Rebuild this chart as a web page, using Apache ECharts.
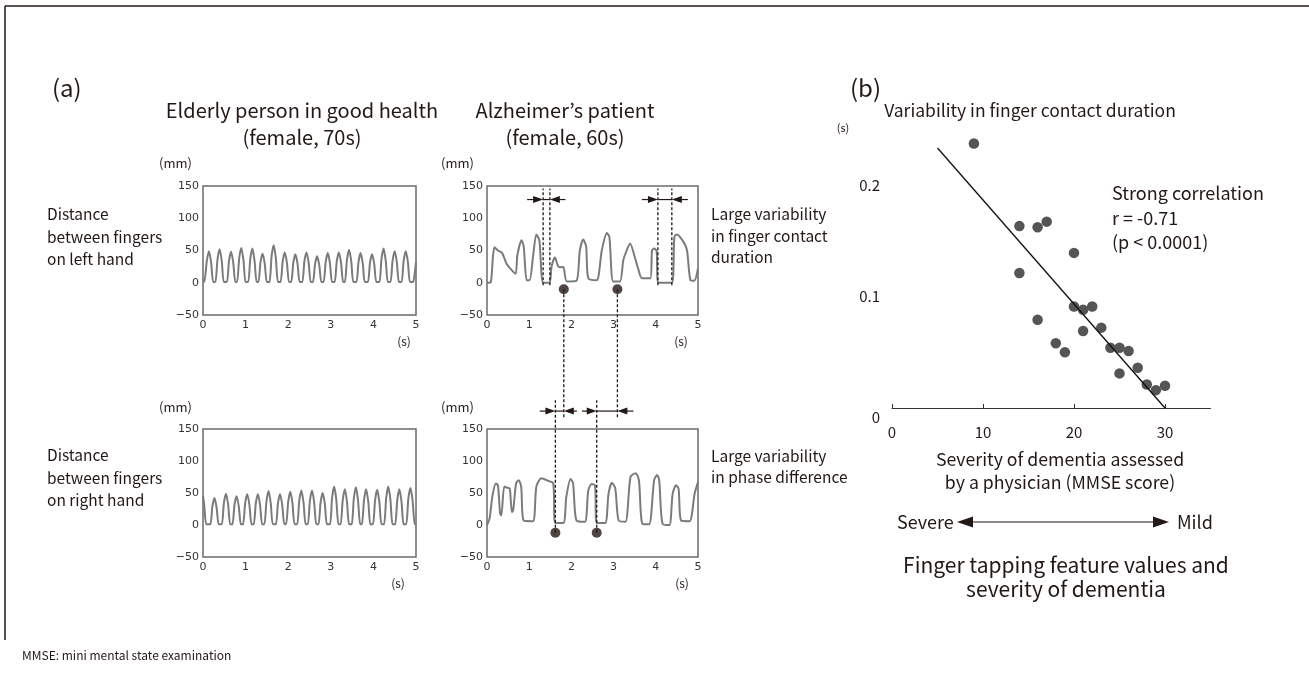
<!DOCTYPE html>
<html>
<head>
<meta charset="utf-8">
<script src="https://cdn.jsdelivr.net/npm/echarts@6/dist/echarts.min.js"></script>
<style>
  html, body { margin: 0; padding: 0; background: #fff; }
  #main { width: 1309px; height: 673px; }
</style>
</head>
<body>
<div id="main"></div>
<script>
var FONT = '"Noto Sans CJK JP", "Noto Sans", sans-serif';
var TICKFONT = '"DejaVu Sans", Verdana, sans-serif';
var INK = '#231815';
var TRACE = '#7b7b7b';

// distance between fingers (mm) over time (s)
var healthyLeft = [
  [0, 6], [0.03, 1], [0.09, 34], [0.14, 49], [0.19, 32], [0.24, 1],
  [0.29, 1], [0.34, 36], [0.39, 52], [0.44, 34], [0.49, 1],
  [0.56, 1], [0.61, 34], [0.66, 48], [0.71, 31], [0.76, 1],
  [0.80, 1], [0.85, 38], [0.90, 54], [0.95, 35], [1.00, 1],
  [1.06, 1], [1.11, 37], [1.16, 53], [1.21, 34], [1.26, 1],
  [1.30, 1], [1.35, 32], [1.40, 45], [1.45, 29], [1.50, 1],
  [1.56, 1], [1.61, 41], [1.66, 58], [1.71, 38], [1.76, 1],
  [1.82, 1], [1.87, 33], [1.92, 47], [1.97, 31], [2.02, 1],
  [2.07, 1], [2.12, 31], [2.17, 44], [2.22, 29], [2.27, 1],
  [2.33, 1], [2.38, 33], [2.43, 47], [2.48, 31], [2.53, 1],
  [2.58, 1], [2.63, 29], [2.68, 41], [2.73, 27], [2.78, 1],
  [2.83, 1], [2.88, 32], [2.93, 46], [2.98, 30], [3.03, 1],
  [3.09, 1], [3.14, 33], [3.19, 47], [3.24, 31], [3.29, 1],
  [3.33, 1], [3.38, 36], [3.43, 51], [3.48, 33], [3.53, 1],
  [3.60, 1], [3.65, 32], [3.70, 46], [3.75, 30], [3.80, 1],
  [3.87, 1], [3.92, 31], [3.97, 44], [4.02, 29], [4.07, 1],
  [4.14, 1], [4.19, 37], [4.24, 53], [4.29, 34], [4.34, 1],
  [4.40, 1], [4.45, 34], [4.50, 49], [4.55, 32], [4.60, 1],
  [4.66, 1], [4.71, 34], [4.76, 49], [4.81, 32], [4.86, 1],
  [4.93, 1], [4.97, 15], [5.0, 32]
];
var patientLeft = [
  [0, 0], [0.09, 1], [0.14, 40], [0.18, 55], [0.26, 50], [0.36, 46], [0.46, 30],
  [0.58, 20], [0.68, 14], [0.72, 43], [0.82, 66], [0.87, 56], [0.94, 4], [1.01, 4],
  [1.09, 40], [1.17, 75], [1.24, 66], [1.33, 0], [1.48, 0], [1.53, 25], [1.61, 39],
  [1.69, 25], [1.77, 24], [1.81, 25], [1.89, 2], [2.12, 3], [2.20, 50], [2.28, 67],
  [2.35, 56], [2.40, 7], [2.60, 4], [2.72, 50], [2.84, 77], [2.90, 71], [2.99, 2],
  [3.15, 2], [3.23, 35], [3.31, 50], [3.39, 61], [3.51, 38], [3.59, 20], [3.67, 7],
  [3.87, 7], [3.91, 50], [3.96, 53], [4.02, 49], [4.05, 0], [4.38, 0], [4.44, 71],
  [4.50, 75], [4.66, 63], [4.74, 50], [4.82, 4], [4.91, 3], [5.0, 22]
];
var healthyRight = [
  [0, 46], [0.03, 30], [0.08, 1],
  [0.17, 1], [0.22, 29], [0.27, 42], [0.32, 27], [0.37, 1],
  [0.44, 1], [0.49, 34], [0.54, 49], [0.59, 32], [0.64, 1],
  [0.69, 1], [0.74, 32], [0.79, 45], [0.84, 29], [0.89, 1],
  [0.94, 1], [0.99, 34], [1.04, 48], [1.09, 31], [1.14, 1],
  [1.19, 1], [1.24, 34], [1.29, 48], [1.34, 31], [1.39, 1],
  [1.44, 1], [1.49, 37], [1.54, 53], [1.59, 34], [1.64, 1],
  [1.71, 1], [1.76, 34], [1.81, 48], [1.86, 31], [1.91, 1],
  [1.95, 1], [2.00, 36], [2.05, 52], [2.10, 34], [2.15, 1],
  [2.21, 1], [2.26, 38], [2.31, 54], [2.36, 35], [2.41, 1],
  [2.46, 1], [2.51, 38], [2.56, 54], [2.61, 35], [2.66, 1],
  [2.71, 1], [2.76, 35], [2.81, 50], [2.86, 33], [2.91, 1],
  [2.98, 1], [3.03, 42], [3.08, 60], [3.13, 39], [3.18, 1],
  [3.23, 1], [3.28, 39], [3.33, 56], [3.38, 36], [3.43, 1],
  [3.49, 1], [3.54, 41], [3.59, 59], [3.64, 38], [3.69, 1],
  [3.73, 1], [3.78, 39], [3.83, 56], [3.88, 36], [3.93, 1],
  [3.99, 1], [4.04, 39], [4.09, 55], [4.14, 36], [4.19, 1],
  [4.25, 1], [4.30, 42], [4.35, 60], [4.40, 39], [4.45, 1],
  [4.51, 1], [4.56, 39], [4.61, 56], [4.66, 36], [4.71, 1],
  [4.77, 1], [4.82, 41], [4.87, 58], [4.92, 38], [4.97, 1],
  [5.0, 1]
];
var patientRight = [
  [0, 0], [0.06, 10], [0.13, 46], [0.21, 65], [0.26, 62], [0.31, 18], [0.34, 15],
  [0.41, 60], [0.49, 58], [0.54, 57], [0.59, 20], [0.62, 23], [0.69, 65], [0.75, 70],
  [0.81, 60], [0.87, 7], [1.09, 6], [1.17, 60], [1.29, 73], [1.45, 69], [1.57, 65],
  [1.62, 3], [1.81, 3], [1.88, 44], [1.98, 72], [2.04, 65], [2.12, 7], [2.32, 5],
  [2.40, 54], [2.48, 64], [2.56, 62], [2.60, 3], [2.80, 3], [2.88, 49], [2.96, 66],
  [3.04, 57], [3.12, 7], [3.28, 5], [3.40, 75], [3.52, 81], [3.60, 70], [3.68, 2],
  [3.84, 1], [3.96, 70], [4.03, 78], [4.08, 70], [4.16, 2], [4.32, 0], [4.40, 49],
  [4.48, 62], [4.54, 57], [4.60, 7], [4.80, 6], [4.92, 49], [5.0, 67]
];

// annotation times (s)
var contactGapStart = [1.33, 4.05];
var contactGapEnd = [1.49, 4.38];
var topDotTimes = [1.82, 3.09];
var bottomDotTimes = [1.62, 2.60];

// (b) MMSE score vs variability in finger contact duration (s)
var mmseScores = [9, 14, 16, 17, 20, 14, 20, 21, 22, 16, 21, 23, 18, 19, 24, 25, 26, 25, 27, 28, 29, 30];
var contactVariability = [0.237, 0.163, 0.162, 0.167, 0.139, 0.121, 0.091, 0.088, 0.091, 0.079, 0.069,
  0.072, 0.058, 0.050, 0.054, 0.054, 0.051, 0.031, 0.036, 0.021, 0.016, 0.020];
var fitLine = [[5, 0.233], [30, 0.0]];

var chart = echarts.init(document.getElementById('main'));

var traceBoxes = [
  { left: 203, top: 186, width: 213, height: 129 },
  { left: 487, top: 186, width: 211, height: 129 },
  { left: 203, top: 429, width: 213, height: 128 },
  { left: 487, top: 429, width: 211, height: 128 }
];
var traces = [healthyLeft, patientLeft, healthyRight, patientRight];

var grids = traceBoxes.map(function (b) {
  return Object.assign({ show: true, borderColor: '#6b6b6b', borderWidth: 1.5 }, b);
});
grids.push({ left: 892, top: 129, width: 318.5, height: 279 });

var xAxes = traceBoxes.map(function (b, i) {
  return {
    type: 'value', gridIndex: i, min: 0, max: 5, interval: 1,
    axisLine: { show: false }, axisTick: { show: false }, splitLine: { show: false },
    axisLabel: { color: '#333', fontSize: 11, fontFamily: TICKFONT, margin: 5 }
  };
});
xAxes.push({
  type: 'value', gridIndex: 4, min: 0, max: 35, interval: 10,
  axisLine: { show: true, lineStyle: { color: '#333', width: 1 } },
  axisTick: { show: true, inside: true, length: 4, lineStyle: { color: '#333' } },
  splitLine: { show: false },
  axisLabel: { color: INK, fontSize: 15, fontFamily: FONT, margin: 17, showMaxLabel: false }
});

var yAxes = traceBoxes.map(function (b, i) {
  return {
    type: 'value', gridIndex: i, min: -50, max: 150, interval: 50,
    axisLine: { show: false }, axisTick: { show: false }, splitLine: { show: false },
    axisLabel: {
      color: '#333', fontSize: 11, fontFamily: TICKFONT, margin: 4,
      formatter: function (v) { return v < 0 ? '\u2212' + (-v) : String(v); }
    }
  };
});
yAxes.push({
  type: 'value', gridIndex: 4, min: 0, max: 0.25, interval: 0.1,
  axisLine: { show: false }, axisTick: { show: false }, splitLine: { show: false },
  axisLabel: {
    color: INK, fontSize: 15, fontFamily: FONT, margin: 12,
    showMaxLabel: false, showMinLabel: false,
    formatter: function (v) { return v.toFixed(1); }
  }
});

var series = traces.map(function (d, i) {
  return {
    type: 'line', xAxisIndex: i, yAxisIndex: i, data: d,
    showSymbol: false, silent: true, smooth: 0.25,
    lineStyle: { color: TRACE, width: 2 }
  };
});
series.push({
  type: 'scatter', xAxisIndex: 1, yAxisIndex: 1, symbolSize: 10,
  itemStyle: { color: INK }, data: topDotTimes.map(function (t) { return [t, -10]; })
});
series.push({
  type: 'scatter', xAxisIndex: 3, yAxisIndex: 3, symbolSize: 10,
  itemStyle: { color: INK }, data: bottomDotTimes.map(function (t) { return [t, -12]; })
});
series.push({
  type: 'scatter', xAxisIndex: 4, yAxisIndex: 4, symbolSize: 10.5,
  itemStyle: { color: '#555', opacity: 1 },
  data: mmseScores.map(function (s, i) { return [s, contactVariability[i]]; })
});
series.push({
  type: 'line', xAxisIndex: 4, yAxisIndex: 4, data: fitLine, showSymbol: false,
  lineStyle: { color: '#111', width: 1.3 }
});

chart.setOption({
  animation: false,
  textStyle: { fontFamily: FONT },
  grid: grids, xAxis: xAxes, yAxis: yAxes, series: series
});

// ---------- annotations and texts ----------
function px(g, t, v) { return chart.convertToPixel({ gridIndex: g }, [t, v]); }

function txt(x, y, s, size, align, lh) {
  return {
    type: 'text', x: x, y: y, z: 100, silent: true,
    style: {
      text: s, fontSize: size, fontFamily: FONT, fill: INK,
      align: align, textAlign: align, verticalAlign: 'middle', textVerticalAlign: 'middle',
      lineHeight: lh || Math.round(size * 1.35)
    }
  };
}
function seg(x1, y1, x2, y2, dash, w) {
  return {
    type: 'line', z: 100, silent: true,
    shape: { x1: x1, y1: y1, x2: x2, y2: y2 },
    style: { stroke: INK, lineWidth: w || 1.3, lineDash: dash ? [3, 2] : null }
  };
}
function arrowTo(xFrom, xTo, y, out, len, half) {
  len = len || 10; half = half || 3.5;
  var dir = xTo > xFrom ? 1 : -1;
  out.push(seg(xFrom, y, xTo - dir * (len - 2), y, false, 1.2));
  out.push({
    type: 'polygon', z: 100, silent: true,
    shape: { points: [[xTo, y], [xTo - dir * len, y - half], [xTo - dir * len, y + half]] },
    style: { fill: INK }
  });
}

var g = [];
// frame
g.push(seg(5, 6, 1309, 6, false, 1.5));
g.push(seg(5, 6, 5, 640, false, 1.5));

// contact duration gaps in the patient's left hand
var contactTails = [[0.95, 1.86], [3.67, 4.76]];
contactGapStart.forEach(function (t0, i) {
  var t1 = contactGapEnd[i];
  var a0 = px(1, t0, -4), a1 = px(1, t0, 146);
  var b0 = px(1, t1, -4), b1 = px(1, t1, 146);
  g.push(seg(a0[0], a0[1], a1[0], a1[1], true));
  g.push(seg(b0[0], b0[1], b1[0], b1[1], true));
  var ya = px(1, 0, 129)[1];
  arrowTo(px(1, contactTails[i][0], 0)[0], a0[0], ya, g);
  arrowTo(px(1, contactTails[i][1], 0)[0], b0[0], ya, g);
  g.push(seg(a0[0], ya, b0[0], ya, false, 1.2));
});

// phase difference between hands
var phaseTails = [[1.25, 2.13], [2.25, 3.47]];
var yLow = px(3, 0, 167)[1];
var yHigh = px(3, 0, 195)[1];
var yRow = px(3, 0, 178)[1];
topDotTimes.forEach(function (t, i) {
  var top = px(1, t, -10);
  g.push(seg(top[0], top[1], top[0], yLow, true));
  var bot = px(3, bottomDotTimes[i], -12);
  g.push(seg(bot[0], bot[1], bot[0], yHigh, true));
  arrowTo(px(3, phaseTails[i][0], 0)[0], bot[0], yRow, g);
  arrowTo(px(3, phaseTails[i][1], 0)[0], top[0], yRow, g);
  g.push(seg(bot[0], yRow, top[0], yRow, false, 1.2));
});

// zero label of panel (b) sits a little below its axis
var zero = px(4, 0, 0);
g.push(txt(zero[0] - 12, zero[1] + 9, '0', 15, 'right'));

// severity arrow
arrowTo(1060, 957, 522, g, 16, 5.5);
arrowTo(1060, 1169, 522, g, 16, 5.5);

// texts
g.push(txt(52, 88, '(a)', 24, 'left'));
g.push(txt(302, 124, 'Elderly person in good health\n(female, 70s)', 20, 'center', 27));
g.push(txt(565, 124, 'Alzheimer\u2019s patient\n(female, 60s)', 20, 'center', 27));
g.push(txt(850, 88, '(b)', 24, 'left'));
g.push(txt(1030, 110, 'Variability in finger contact duration', 17.5, 'center'));
g.push(txt(843, 128, '(s)', 11, 'center'));
g.push(txt(159, 163, '(mm)', 13, 'left'));
g.push(txt(441, 163, '(mm)', 13, 'left'));
g.push(txt(159, 407, '(mm)', 13, 'left'));
g.push(txt(441, 407, '(mm)', 13, 'left'));
g.push(txt(404, 341, '(s)', 12, 'center'));
g.push(txt(681, 341, '(s)', 12, 'center'));
g.push(txt(398, 583, '(s)', 12, 'center'));
g.push(txt(682, 583, '(s)', 12, 'center'));
g.push(txt(47, 237, 'Distance\nbetween fingers\non left hand', 15.5, 'left', 22.5));
g.push(txt(47, 478, 'Distance\nbetween fingers\non right hand', 15.5, 'left', 22.5));
g.push(txt(711, 236, 'Large variability\nin finger contact\nduration', 15.5, 'left', 21.5));
g.push(txt(711, 467, 'Large variability\nin phase difference', 15.5, 'left', 21));
g.push(txt(1112, 218, 'Strong correlation\nr = -0.71\n(p < 0.0001)', 18, 'left', 24.5));
g.push(txt(1060, 471, 'Severity of dementia assessed\nby a physician (MMSE score)', 17.7, 'center', 23));
g.push(txt(897, 522, 'Severe', 18, 'left'));
g.push(txt(1177, 522, 'Mild', 18, 'left'));
g.push(txt(1066, 577, 'Finger tapping feature values and\nseverity of dementia', 21, 'center', 24));
g.push(txt(22, 655, 'MMSE: mini mental state examination', 12, 'left'));

chart.setOption({ graphic: { elements: g } });
</script>
</body>
</html>
